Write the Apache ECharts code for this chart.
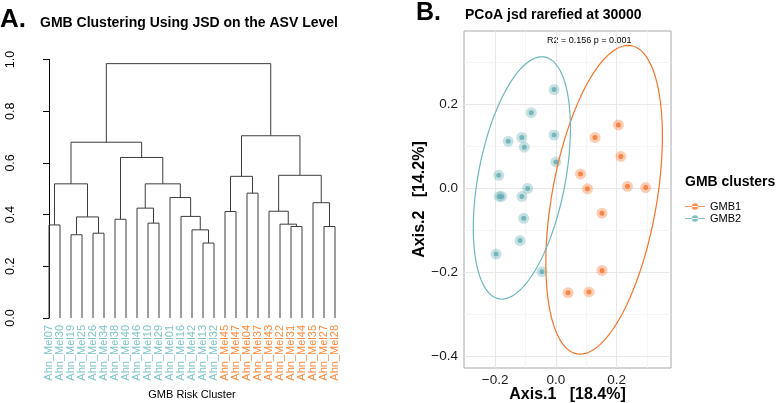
<!DOCTYPE html>
<html>
<head>
<meta charset="UTF-8">
<title>GMB clustering</title>
<style>
  html, body { margin: 0; padding: 0; background: #fff; }
  #chart { width: 778px; height: 403px; }
</style>
</head>
<body>
<div id="chart"></div>
<script src="https://cdn.jsdelivr.net/npm/echarts@6/dist/echarts.min.js"></script>
<script>
// ---- panel A : dendrogram ----
var leafNames = ['Ahn_Mel07', 'Ahn_Mel30', 'Ahn_Mel19', 'Ahn_Mel25', 'Ahn_Mel26', 'Ahn_Mel34',
  'Ahn_Mel38', 'Ahn_Mel40', 'Ahn_Mel46', 'Ahn_Mel10', 'Ahn_Mel29', 'Ahn_Mel01', 'Ahn_Mel16',
  'Ahn_Mel42', 'Ahn_Mel13', 'Ahn_Mel32', 'Ahn_Mel45', 'Ahn_Mel47', 'Ahn_Mel04', 'Ahn_Mel37',
  'Ahn_Mel43', 'Ahn_Mel22', 'Ahn_Mel31', 'Ahn_Mel44', 'Ahn_Mel35', 'Ahn_Mel27', 'Ahn_Mel28'];
var leafGroup = ['GMB2', 'GMB2', 'GMB2', 'GMB2', 'GMB2', 'GMB2', 'GMB2', 'GMB2', 'GMB2', 'GMB2',
  'GMB2', 'GMB2', 'GMB2', 'GMB2', 'GMB2', 'GMB2', 'GMB1', 'GMB1', 'GMB1', 'GMB1', 'GMB1', 'GMB1',
  'GMB1', 'GMB1', 'GMB1', 'GMB1', 'GMB1'];
// hclust style merges: negative = leaf (1-based), positive = earlier merge step
var merges = [
  [-1, -2, 0.360], [-3, -4, 0.322], [-5, -6, 0.328], [2, 3, 0.391], [1, 4, 0.519],
  [-7, -8, 0.382], [-10, -11, 0.367], [-9, 7, 0.425], [-15, -16, 0.290], [-14, 9, 0.341],
  [-13, 10, 0.393], [-12, 11, 0.466], [8, 12, 0.519], [6, 13, 0.621], [5, 14, 0.680],
  [-17, -18, 0.412], [-19, -20, 0.483], [16, 17, 0.548], [-23, -24, 0.354], [-22, 19, 0.363],
  [-21, 20, 0.413], [-26, -27, 0.354], [-25, 22, 0.446], [21, 23, 0.552], [18, 24, 0.705],
  [15, 25, 0.984]
];
var heightTicks = [0, 0.2, 0.4, 0.6, 0.8, 1.0];

// ---- panel B : PCoA ----
var gmb1Points = [[0.206, 0.151], [0.129, 0.121], [0.214, 0.076], [0.081, 0.034], [0.104, -0.001],
  [0.236, 0.005], [0.296, 0.002], [0.152, -0.059], [0.152, -0.195], [0.040, -0.248], [0.109, -0.246]];
var gmb2Points = [[-0.006, 0.235], [-0.081, 0.180], [-0.157, 0.112], [-0.112, 0.121], [-0.104, 0.098],
  [-0.006, 0.127], [0.000, 0.063], [-0.188, 0.031], [-0.093, 0.000], [-0.186, -0.019], [-0.179, -0.019],
  [-0.112, -0.019], [-0.106, -0.071], [-0.118, -0.124], [-0.197, -0.156], [-0.046, -0.198]];
// ellipse: centre x, centre y, half height, x offset of top point, half width
var gmb1Ellipse = [0.159, -0.027, 0.367, 0.079, 0.192];
var gmb2Ellipse = [-0.112, 0.025, 0.288, 0.066, 0.160];
var axis1Range = [-0.3026, 0.3793];
var axis2Range = [-0.4269, 0.3742];
var axis1Ticks = [-0.2, 0, 0.2];
var axis2Ticks = [-0.4, -0.2, 0, 0.2];
var axis1Minor = [-0.1, 0.1, 0.3];
var axis2Minor = [-0.3, -0.1, 0.1, 0.3];

var teal = '#62adb2', orange = '#f7732a';
var tealLabel = '#7fc5c8', orangeLabel = '#ff8a3c';
var font = '"Liberation Sans", Arial, Helvetica, sans-serif';

// dendrogram segments from the merge list
var nodeX = [], nodeH = [], segs = [];
function nodePos(ref) {
  return ref < 0 ? [-ref - 1, 0] : [nodeX[ref - 1], nodeH[ref - 1]];
}
merges.forEach(function (m) {
  var a = nodePos(m[0]), b = nodePos(m[1]);
  nodeX.push((a[0] + b[0]) / 2);
  nodeH.push(m[2]);
  segs.push([a[0], a[1], b[0], b[1], m[2]]);
});

function fmtNum(v) {
  var s = Math.abs(v).toFixed(1);
  return v < -1e-9 ? '\u2212' + s : s;
}

var major = { color: '#e8e8e8', width: 1, type: 'solid' };
var minor = { color: '#f3f3f3', width: 0.8, type: 'solid' };
var gridLines = [];
axis1Ticks.forEach(function (v) { gridLines.push({ xAxis: v, lineStyle: major }); });
axis1Minor.forEach(function (v) { gridLines.push({ xAxis: v, lineStyle: minor }); });
axis2Ticks.forEach(function (v) { gridLines.push({ yAxis: v, lineStyle: major }); });
axis2Minor.forEach(function (v) { gridLines.push({ yAxis: v, lineStyle: minor }); });

function ellipseItem(params, api) {
  var cx = api.value(0), cy = api.value(1), h = api.value(2), a = api.value(3), w = api.value(4);
  var b = Math.sqrt(Math.max(w * w - a * a, 0));
  var pts = [];
  for (var i = 0; i <= 120; i++) {
    var t = i / 120 * Math.PI * 2;
    pts.push(api.coord([cx + a * Math.cos(t) + b * Math.sin(t), cy + h * Math.cos(t)]));
  }
  return {
    type: 'polyline',
    shape: { points: pts },
    style: { stroke: api.visual('color'), fill: null, lineWidth: 1.2 }
  };
}

var myChart = echarts.init(document.getElementById('chart'));
var option = {
  animation: false,
  backgroundColor: '#fff',
  textStyle: { fontFamily: font },
  grid: [
    { left: 49, right: 443, top: 59.5, bottom: 85, outerBoundsMode: 'none' },
    { left: 464, right: 107, top: 31, bottom: 35, outerBoundsMode: 'none' }
  ],
  xAxis: [
    {
      gridIndex: 0, type: 'value', min: 0, max: leafNames.length - 1, interval: 1,
      axisLine: { show: false }, axisTick: { show: false }, splitLine: { show: false },
      axisLabel: {
        rotate: 90, margin: 7, fontSize: 11, fontFamily: font,
        formatter: function (v) { return leafNames[Math.round(v)] || ''; },
        color: function (v) { return leafGroup[Math.round(Number(v))] === 'GMB1' ? orangeLabel : tealLabel; }
      },
      name: 'GMB Risk Cluster', nameLocation: 'middle', nameGap: 71, nameMoveOverlap: false,
      nameTextStyle: { fontSize: 11, color: '#000', fontFamily: font }
    },
    {
      gridIndex: 1, type: 'value', min: axis1Range[0], max: axis1Range[1],
      axisLine: { show: false }, splitLine: { show: false },
      axisTick: { show: true, length: 3, customValues: axis1Ticks, lineStyle: { color: '#333' } },
      axisLabel: { customValues: axis1Ticks, formatter: fmtNum, fontSize: 13.5, color: '#1a1a1a', margin: 5, fontFamily: font },
      name: 'Axis.1   [18.4%]', nameLocation: 'middle', nameGap: 19, nameMoveOverlap: false,
      nameTextStyle: { fontSize: 16, fontWeight: 'bold', color: '#000', fontFamily: font }
    }
  ],
  yAxis: [
    {
      gridIndex: 0, type: 'value', min: 0, max: 1, interval: 0.2, offset: 18,
      axisLine: { show: true, lineStyle: { color: '#000', width: 1 } },
      axisTick: { show: true, length: 6, lineStyle: { color: '#000' } },
      splitLine: { show: false },
      axisLabel: { rotate: 90, margin: 14, fontSize: 12.5, color: '#000', fontFamily: font,
        customValues: heightTicks, formatter: function (v) { return v.toFixed(1); } }
    },
    {
      gridIndex: 1, type: 'value', min: axis2Range[0], max: axis2Range[1],
      axisLine: { show: false }, splitLine: { show: false },
      axisTick: { show: true, length: 3, customValues: axis2Ticks, lineStyle: { color: '#333' } },
      axisLabel: { customValues: axis2Ticks, formatter: fmtNum, fontSize: 13.5, color: '#1a1a1a', margin: 6, fontFamily: font },
      name: 'Axis.2   [14.2%]', nameLocation: 'middle', nameGap: 36, nameRotate: 90, nameMoveOverlap: false,
      nameTextStyle: { fontSize: 16, fontWeight: 'bold', color: '#000', fontFamily: font }
    }
  ],
  legend: {
    data: ['GMB1', 'GMB2'], orient: 'vertical', left: 680, top: 196, itemGap: 1,
    itemWidth: 20, itemHeight: 11,
    icon: 'path://M0,4.4L20,4.4L20,5.6L0,5.6Z M6.8,5a3.2,3.2 0 1,0 6.4,0a3.2,3.2 0 1,0 -6.4,0Z',
    textStyle: { fontSize: 11, color: '#000', fontFamily: font }
  },
  graphic: [
    { type: 'text', left: 0, top: 7, style: { text: 'A.', font: 'bold 26px ' + font, fill: '#000' } },
    { type: 'text', left: 40, top: 16, style: { text: 'GMB Clustering Using JSD on the ASV Level', font: 'bold 14px ' + font, fill: '#000' } },
    { type: 'text', left: 416, top: 1, style: { text: 'B.', font: 'bold 25px ' + font, fill: '#000' } },
    { type: 'text', left: 465, top: 8, style: { text: 'PCoA jsd rarefied at 30000', font: 'bold 14px ' + font, fill: '#000' } },
    { type: 'text', left: 547, top: 36, style: { text: 'R2 = 0.156 p = 0.001', font: '9px ' + font, fill: '#000' } },
    { type: 'text', left: 685, top: 175, style: { text: 'GMB clusters', font: 'bold 14px ' + font, fill: '#000' } }
  ],
  series: [
    {
      type: 'custom', xAxisIndex: 0, yAxisIndex: 0,
      data: segs,
      encode: { x: [0, 2], y: [1, 3, 4] },
      renderItem: function (params, api) {
        var p1 = api.coord([api.value(0), api.value(1)]);
        var p2 = api.coord([api.value(0), api.value(4)]);
        var p3 = api.coord([api.value(2), api.value(4)]);
        var p4 = api.coord([api.value(2), api.value(3)]);
        return {
          type: 'polyline',
          shape: { points: [p1, p2, p3, p4] },
          style: { stroke: '#3c3c3c', fill: null, lineWidth: 1 }
        };
      }
    },
    {
      name: 'panel', type: 'line', xAxisIndex: 1, yAxisIndex: 1, z: 1,
      data: [], silent: true,
      markLine: { silent: true, symbol: ['none', 'none'], animation: false,
        lineStyle: { type: 'solid' }, label: { show: false }, emphasis: { disabled: true }, data: gridLines },
      markArea: { silent: true, animation: false, label: { show: false },
        itemStyle: { color: 'rgba(0,0,0,0)', borderColor: '#a8a8a8', borderWidth: 1 },
        data: [[{ xAxis: axis1Range[0], yAxis: axis2Range[0] }, { xAxis: axis1Range[1], yAxis: axis2Range[1] }]] }
    },
    {
      name: 'GMB1 halo', type: 'scatter', xAxisIndex: 1, yAxisIndex: 1, z: 6,
      data: gmb1Points, symbolSize: 11, itemStyle: { color: orange, opacity: 0.35 }
    },
    {
      name: 'GMB2 halo', type: 'scatter', xAxisIndex: 1, yAxisIndex: 1, z: 6,
      data: gmb2Points, symbolSize: 11, itemStyle: { color: teal, opacity: 0.35 }
    },
    {
      name: 'GMB1', type: 'scatter', xAxisIndex: 1, yAxisIndex: 1, z: 7,
      data: gmb1Points, symbolSize: 5, itemStyle: { color: orange }
    },
    {
      name: 'GMB2', type: 'scatter', xAxisIndex: 1, yAxisIndex: 1, z: 7,
      data: gmb2Points, symbolSize: 5, itemStyle: { color: teal }
    },
    {
      name: 'GMB1 ellipse', type: 'custom', xAxisIndex: 1, yAxisIndex: 1, z: 8,
      data: [gmb1Ellipse], itemStyle: { color: orange }, renderItem: ellipseItem
    },
    {
      name: 'GMB2 ellipse', type: 'custom', xAxisIndex: 1, yAxisIndex: 1, z: 8,
      data: [gmb2Ellipse], itemStyle: { color: '#6db7bb' }, renderItem: ellipseItem
    }
  ]
};
myChart.setOption(option);
</script>
</body>
</html>
